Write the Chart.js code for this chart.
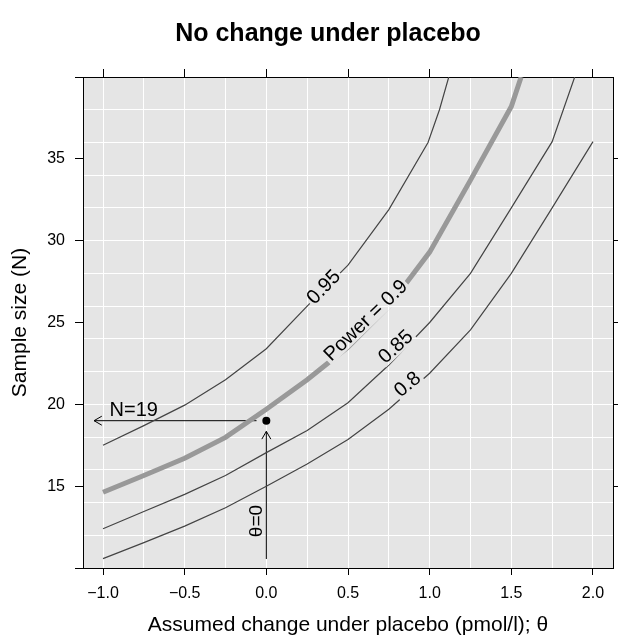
<!DOCTYPE html>
<html>
<head>
<meta charset="utf-8">
<script src="https://cdn.jsdelivr.net/npm/chart.js@4.4.0/dist/chart.umd.min.js"></script>
<style>
  html, body { margin: 0; padding: 0; background: #fff; }
</style>
</head>
<body>
<canvas id="powerChart" width="618" height="642"></canvas>
<script>
// axis setup
const thetaMin = -1.1225, thetaMax = 2.1225;
const nMin = 10, nMax = 40;
const thetaLabelTicks = [-1, -0.5, 0, 0.5, 1, 1.5, 2];
const thetaGridLines = [-1, -0.75, -0.5, -0.25, 0, 0.25, 0.5, 0.75, 1, 1.25, 1.5, 1.75, 2];
const nTickMarks = [10, 15, 20, 25, 30, 35, 40];
const nTickLabels = [15, 20, 25, 30, 35];
const nGridLines = [12, 14, 16, 18, 20, 22, 24, 26, 28, 30, 32, 34, 36, 38];

// power contours
const power95Theta = [-1, -0.75, -0.5, -0.25, 0, 0.25, 0.5, 0.75, 0.99, 1.06, 1.117];
const power95N = [17.5, 18.7, 19.95, 21.5, 23.4, 26.0, 28.5, 31.9, 36.0, 38.0, 40.0];

const power90Theta = [-1, -0.75, -0.5, -0.25, 0, 0.25, 0.5, 0.75, 1, 1.25, 1.5, 1.56];
const power90N = [14.63, 15.65, 16.7, 17.98, 19.7, 21.5, 23.5, 26.0, 29.3, 33.7, 38.2, 40.0];

const power85Theta = [-1, -0.75, -0.5, -0.25, 0, 0.25, 0.5, 0.75, 1, 1.25, 1.5, 1.75, 1.888];
const power85N = [12.4, 13.45, 14.5, 15.65, 17.05, 18.4, 20.1, 22.4, 25.0, 28.0, 32.0, 36.05, 40.0];

const power80Theta = [-1, -0.75, -0.5, -0.25, 0, 0.25, 0.5, 0.75, 1, 1.25, 1.5, 1.75, 2];
const power80N = [10.57, 11.55, 12.56, 13.68, 15.0, 16.35, 17.85, 19.7, 21.9, 24.55, 28.0, 32.0, 36.05];

// contour labels
const labelText = ['0.95', 'Power = 0.9', '0.85', '0.8'];
const labelTheta = [0.353, 0.61, 0.794, 0.867];
const labelN = [27.15, 25.1, 23.5, 21.2];
const labelAngle = [-46, -44, -43, -40];

// design point and arrows
const designTheta = 0, designN = 19;
const nArrowTheta = [-0.06, -1.055];
const thetaArrowN = [10.55, 18.35];

const fontFamily = '"Liberation Sans", Arial, Helvetica, sans-serif';
const labelFont = '20px ' + fontFamily;

const pairs = (xs, ys) => xs.map((v, i) => ({x: v, y: ys[i]}));
const isHalf = v => Math.abs(v * 2 - Math.round(v * 2)) < 1e-9;
const fmtTheta = v => (v < 0 ? '\u2212' : '') + Math.abs(v).toFixed(1);
const clear = 'rgba(0,0,0,0)';

const panelBackground = {
    id: 'panelBackground',
    beforeDraw(chart) {
        const {ctx, chartArea: a} = chart;
        ctx.save();
        ctx.fillStyle = '#e5e5e5';
        ctx.fillRect(a.left, a.top, a.right - a.left, a.bottom - a.top);
        ctx.restore();
    },
    afterDraw(chart) {
        // main title, centred like the original
        const ctx = chart.ctx;
        ctx.save();
        ctx.fillStyle = '#000';
        ctx.font = 'bold 25px ' + fontFamily;
        ctx.textAlign = 'center';
        ctx.textBaseline = 'middle';
        ctx.fillText('No change under placebo', 328, 34);
        ctx.restore();
    }
};

const arrowHead = (ctx, x0, y0, x1, y1) => {
    const ang = Math.atan2(y1 - y0, x1 - x0);
    const len = 9, spread = Math.PI / 6;
    ctx.beginPath();
    ctx.moveTo(x1 - len * Math.cos(ang - spread), y1 - len * Math.sin(ang - spread));
    ctx.lineTo(x1, y1);
    ctx.lineTo(x1 - len * Math.cos(ang + spread), y1 - len * Math.sin(ang + spread));
    ctx.stroke();
};

const contourLabels = {
    id: 'contourLabels',
    beforeDatasetsDraw(chart) {
        const {ctx, chartArea: a, scales: {x, y}} = chart;
        ctx.save();
        ctx.beginPath();
        ctx.rect(a.left, a.top, a.right - a.left, a.bottom - a.top);
        ctx.font = labelFont;
        labelText.forEach((t, i) => {
            const w = ctx.measureText(t).width + 4, h = 16;
            ctx.save();
            ctx.translate(x.getPixelForValue(labelTheta[i]), y.getPixelForValue(labelN[i]));
            ctx.rotate(labelAngle[i] * Math.PI / 180);
            ctx.rect(-w / 2, -h / 2, w, h);
            ctx.restore();
        });
        ctx.clip('evenodd');
    },
    afterDatasetsDraw(chart) {
        const {ctx, scales: {x, y}} = chart;
        ctx.restore();

        ctx.save();
        ctx.fillStyle = '#000';
        ctx.font = labelFont;
        ctx.textAlign = 'center';
        ctx.textBaseline = 'middle';
        labelText.forEach((t, i) => {
            ctx.save();
            ctx.translate(x.getPixelForValue(labelTheta[i]), y.getPixelForValue(labelN[i]));
            ctx.rotate(labelAngle[i] * Math.PI / 180);
            ctx.fillText(t, 0, 0);
            ctx.restore();
        });

        // arrow heads
        ctx.strokeStyle = '#000';
        ctx.lineWidth = 1;
        const yN = y.getPixelForValue(designN);
        arrowHead(ctx, x.getPixelForValue(nArrowTheta[0]), yN, x.getPixelForValue(nArrowTheta[1]), yN);
        const xT = x.getPixelForValue(designTheta);
        arrowHead(ctx, xT, y.getPixelForValue(thetaArrowN[0]), xT, y.getPixelForValue(thetaArrowN[1]));

        // annotation texts
        ctx.textAlign = 'left';
        ctx.font = '20px ' + fontFamily;
        ctx.fillText('N=19', x.getPixelForValue(-0.96), y.getPixelForValue(19.6));
        ctx.save();
        ctx.translate(x.getPixelForValue(-0.061), y.getPixelForValue(12.87));
        ctx.rotate(-Math.PI / 2);
        ctx.textAlign = 'center';
        ctx.font = '19px ' + fontFamily;
        ctx.fillText('\u03b8=0', 0, 0);
        ctx.restore();
        ctx.restore();
    }
};

const thinLine = (xs, ys) => ({
    data: pairs(xs, ys),
    borderColor: '#444444',
    borderWidth: 1.2,
    pointRadius: 0,
    tension: 0,
    xAxisID: 'x',
    yAxisID: 'y'
});

new Chart(document.getElementById('powerChart'), {
    type: 'line',
    data: {
        datasets: [
            thinLine(power95Theta, power95N),
            thinLine(power85Theta, power85N),
            thinLine(power80Theta, power80N),
            {
                data: pairs(power90Theta, power90N),
                borderColor: '#999999',
                borderWidth: 5,
                pointRadius: 0,
                tension: 0,
                xAxisID: 'x',
                yAxisID: 'y'
            },
            {
                data: pairs(nArrowTheta, [designN, designN]),
                borderColor: '#000',
                borderWidth: 1,
                pointRadius: 0,
                xAxisID: 'x',
                yAxisID: 'y'
            },
            {
                data: pairs([designTheta, designTheta], thetaArrowN),
                borderColor: '#000',
                borderWidth: 1,
                pointRadius: 0,
                xAxisID: 'x',
                yAxisID: 'y'
            },
            {
                data: [{x: designTheta, y: designN}],
                showLine: false,
                pointRadius: 4,
                pointBackgroundColor: '#000',
                pointBorderColor: '#000',
                pointBorderWidth: 0,
                xAxisID: 'x',
                yAxisID: 'y'
            }
        ]
    },
    options: {
        responsive: false,
        animation: false,
        events: [],
        layout: {padding: {top: 44, left: 0, right: 0, bottom: 0}},
        plugins: {
            legend: {display: false},
            tooltip: {enabled: false},
            title: {display: false}
        },
        scales: {
            x: {
                type: 'linear',
                position: 'bottom',
                min: thetaMin,
                max: thetaMax,
                afterBuildTicks: s => { s.ticks = thetaGridLines.map(v => ({value: v})); },
                afterFit: s => { s.height = 74; },
                grid: {
                    color: '#ffffff',
                    lineWidth: 1,
                    tickLength: 7,
                    tickColor: c => isHalf(c.tick.value) ? '#000' : clear
                },
                border: {display: true, color: '#000', width: 1},
                ticks: {
                    autoSkip: false, maxRotation: 0, minRotation: 0, padding: 9,
                    color: '#000', font: {family: fontFamily, size: 16},
                    callback: v => isHalf(v) ? fmtTheta(v) : ''
                },
                title: {
                    display: true,
                    text: 'Assumed change under placebo (pmol/l); \u03b8',
                    color: '#000',
                    font: {family: fontFamily, size: 21},
                    padding: {top: 0, bottom: 4}
                }
            },
            x2: {
                type: 'linear',
                position: 'top',
                min: thetaMin,
                max: thetaMax,
                afterBuildTicks: s => { s.ticks = thetaLabelTicks.map(v => ({value: v})); },
                afterFit: s => { s.height = 33; },
                grid: {drawOnChartArea: false, tickLength: 8, color: '#000', tickColor: '#000'},
                border: {display: true, color: '#000', width: 1},
                ticks: {display: false}
            },
            y: {
                type: 'linear',
                position: 'left',
                min: nMin,
                max: nMax,
                afterBuildTicks: s => {
                    const vals = [...new Set([...nTickMarks, ...nGridLines])].sort((a, b) => a - b);
                    s.ticks = vals.map(v => ({value: v}));
                },
                afterFit: s => { s.width = 83; },
                grid: {
                    color: c => nGridLines.includes(c.tick.value) ? '#ffffff' : clear,
                    lineWidth: 1,
                    tickLength: 8,
                    tickColor: c => nTickMarks.includes(c.tick.value) ? '#000' : clear
                },
                border: {display: true, color: '#000', width: 1},
                ticks: {
                    autoSkip: false, padding: 10,
                    color: '#000', font: {family: fontFamily, size: 16},
                    callback: v => nTickLabels.includes(v) ? String(v) : ''
                },
                title: {
                    display: true,
                    text: 'Sample size (N)',
                    color: '#000',
                    font: {family: fontFamily, size: 21},
                    padding: {top: 8, bottom: 0}
                }
            },
            y2: {
                type: 'linear',
                position: 'right',
                min: nMin,
                max: nMax,
                afterBuildTicks: s => { s.ticks = nTickLabels.map(v => ({value: v})); },
                afterFit: s => { s.width = 5; },
                grid: {drawOnChartArea: false, tickLength: 8, color: '#000', tickColor: '#000'},
                border: {display: true, color: '#000', width: 1},
                ticks: {display: false}
            }
        }
    },
    plugins: [panelBackground, contourLabels]
});
</script>
</body>
</html>
